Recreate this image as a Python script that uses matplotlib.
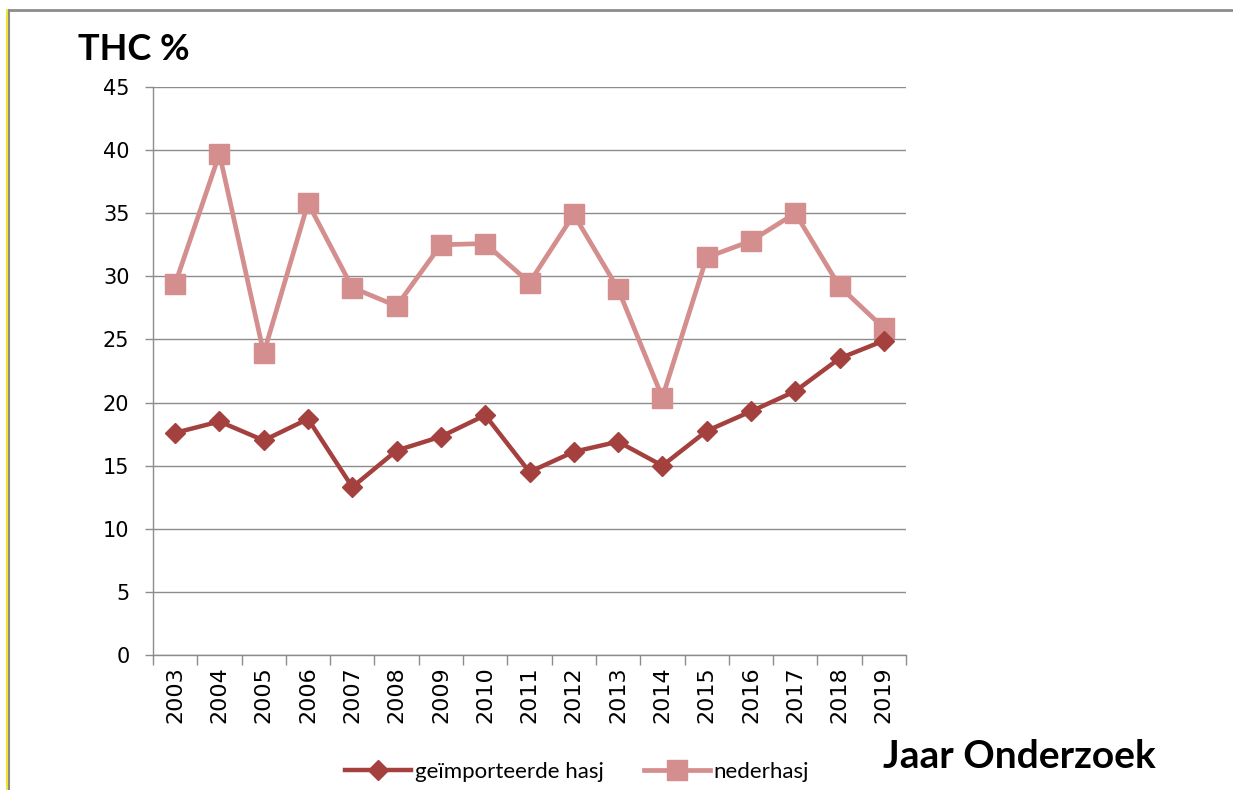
import numpy as np
import matplotlib
matplotlib.use("Agg")
from matplotlib import pyplot as plt
from matplotlib.lines import Line2D

# data
jaren = ['2003', '2004', '2005', '2006', '2007', '2008', '2009', '2010', '2011',
         '2012', '2013', '2014', '2015', '2016', '2017', '2018', '2019']
geimporteerd = [17.6, 18.5, 17.0, 18.7, 13.3, 16.2, 17.3, 19.0, 14.5,
                16.1, 16.9, 15.0, 17.75, 19.3, 20.9, 23.5, 24.9]
nederhasj = [29.4, 39.7, 23.9, 35.8, 29.1, 27.65, 32.5, 32.6, 29.5,
             34.9, 29.0, 20.4, 31.5, 32.8, 35.0, 29.2, 25.9]
y_ticks = [0, 5, 10, 15, 20, 25, 30, 35, 40, 45]

kleur_imp = '#A4403D'
kleur_ned = '#D48E8E'
grijs = '#8C8C8C'

fig = plt.figure(figsize=(12.33, 7.9), dpi=100)
ax = fig.add_axes([153/1233, 1 - 655/790, 753/1233, 568/790])

x = np.arange(len(jaren))
ax.plot(x, geimporteerd, color=kleur_imp, lw=3.2, marker='D', ms=10,
        label='geïmporteerde hasj', zorder=4)
ax.plot(x, nederhasj, color=kleur_ned, lw=3.4, marker='s', ms=15,
        label='nederhasj', zorder=3)

ax.set_xlim(-0.5, len(jaren) - 0.5)
ax.set_ylim(0, 45)
ax.set_yticks(y_ticks)
ax.grid(axis='y', color=grijs, lw=1.0)
ax.set_axisbelow(True)

ax.set_xticks(x)
ax.set_xticklabels(jaren, rotation=90, fontsize=16, family='DejaVu Sans')
ax.set_xticks(np.arange(-0.5, len(jaren)), minor=True)
ax.tick_params(axis='x', which='major', length=0, pad=8)
ax.tick_params(axis='x', which='minor', length=7, color=grijs, width=1)
ax.tick_params(axis='y', length=6, color=grijs, width=1, labelsize=15, pad=11)

for s in ['top', 'right']:
    ax.spines[s].set_visible(False)
for s in ['left', 'bottom']:
    ax.spines[s].set_color(grijs)
    ax.spines[s].set_linewidth(1.0)

fig.text(78/1233, 1 - 50/790, 'THC %', fontsize=26, fontweight='bold',
         family='Lato', va='center', ha='left')
fig.text(883/1233, 1 - 757/790, 'Jaar Onderzoek', fontsize=28, fontweight='bold',
         family='Lato', va='center', ha='left')

fig.legend(loc='center', bbox_to_anchor=(577/1233, 1 - 772/790), ncol=2,
           frameon=False, prop={'family': 'Lato', 'size': 16},
           handlelength=3.0, columnspacing=1.8, handletextpad=0.15)

# frame of the picture
fig.add_artist(Line2D([9/1233, 1], [1 - 10/790, 1 - 10/790], color=grijs, lw=2))
fig.add_artist(Line2D([9/1233, 9/1233], [0, 1 - 10/790], color=grijs, lw=1.5))
fig.add_artist(Line2D([7/1233, 7/1233], [0, 1 - 10/790], color='#F0E000', lw=1.2))

fig.savefig('out.png', dpi=100)
